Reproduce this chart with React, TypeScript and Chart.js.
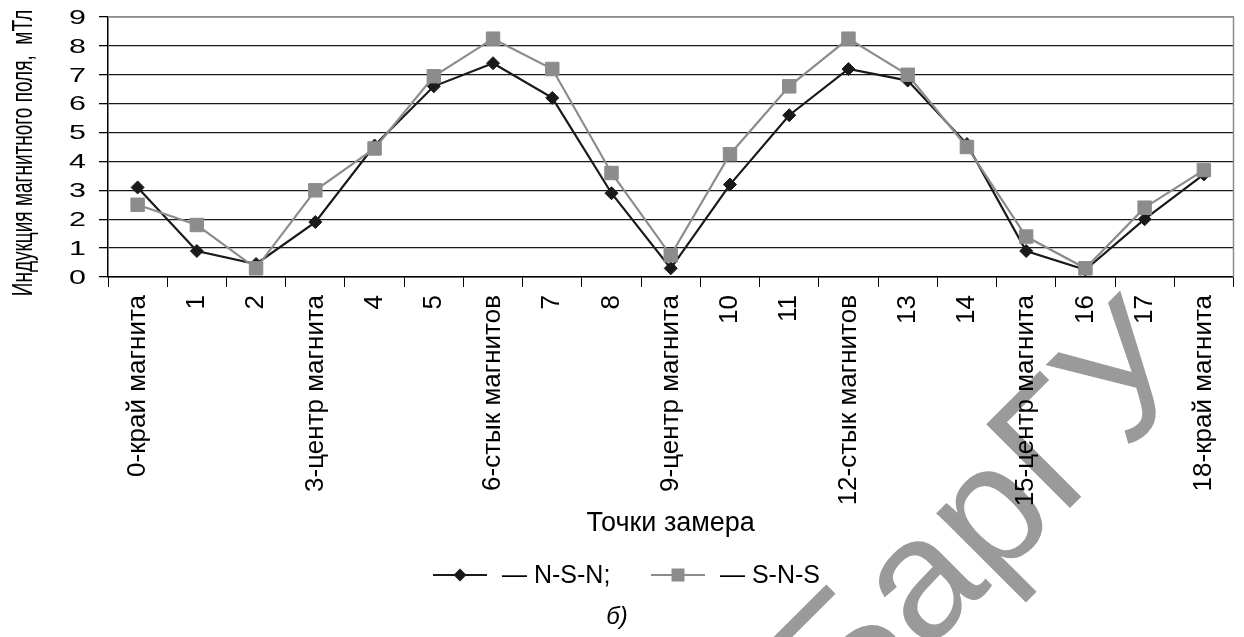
import React, { useEffect, useRef } from 'react';
import { Chart, registerables } from 'chart.js';

Chart.register(...registerables);

const FONT = "'Liberation Sans', Arial, sans-serif";

const categories = [
  '0-край магнита', '1', '2', '3-центр магнита', '4', '5', '6-стык магнитов', '7', '8',
  '9-центр магнита', '10', '11', '12-стык магнитов', '13', '14', '15-центр магнита', '16', '17',
  '18-край магнита',
];
const nsnValues = [3.1, 0.9, 0.45, 1.9, 4.55, 6.6, 7.4, 6.2, 2.9, 0.3, 3.2, 5.6, 7.2, 6.8, 4.6, 0.9, 0.25, 2.0, 3.55];
const snsValues = [2.5, 1.8, 0.3, 3.0, 4.45, 6.95, 8.25, 7.2, 3.6, 0.75, 4.25, 6.6, 8.25, 7.0, 4.5, 1.4, 0.3, 2.4, 3.7];
const seriesNames = ['N-S-N', 'S-N-S'];
const legendTexts = ['— N-S-N;', '— S-N-S'];
const yMin = 0;
const yMax = 9;
const yStep = 1;
const yTitle = 'Индукция магнитного поля,  мТл';
const xTitle = 'Точки замера';
const caption = 'б)';
const watermark = 'БарГУ';

const BLACK = '#1a1a1a';
const GRAY = '#8c8c8c';

const watermarkPlugin = {
  id: 'watermark',
  beforeDraw(chart: any) {
    const ctx = chart.ctx;
    ctx.save();
    ctx.translate(845, 733);
    ctx.rotate(-Math.PI / 4);
    ctx.font = `172px ${FONT}`;
    ctx.fillStyle = '#9a9a9a';
    ctx.textBaseline = 'alphabetic';
    ctx.textAlign = 'left';
    ctx.fillText(watermark, 0, 0);
    ctx.restore();
  },
};

const framePlugin = {
  id: 'frame',
  beforeDatasetsDraw(chart: any) {
    const { ctx, chartArea } = chart;
    ctx.save();
    ctx.strokeStyle = GRAY;
    ctx.lineWidth = 1.5;
    ctx.beginPath();
    ctx.moveTo(chartArea.left, chartArea.top);
    ctx.lineTo(chartArea.right, chartArea.top);
    ctx.lineTo(chartArea.right, chartArea.bottom);
    ctx.stroke();
    ctx.restore();
  },
};

// y-axis labels and title are drawn horizontally widened, as in the reference
const yAxisTextPlugin = {
  id: 'yAxisText',
  afterDraw(chart: any) {
    const ctx = chart.ctx;
    const ys = chart.scales.y;
    ctx.save();
    ctx.fillStyle = '#000';
    ctx.font = `21px ${FONT}`;
    ctx.textAlign = 'right';
    ctx.textBaseline = 'middle';
    ys.ticks.forEach((t: any) => {
      const py = ys.getPixelForValue(t.value);
      ctx.save();
      ctx.translate(ys.right - 22, py + 1);
      ctx.scale(1.45, 1);
      ctx.fillText(String(t.value), 0, 0);
      ctx.restore();
    });
    ctx.save();
    ctx.translate(24, (chart.chartArea.top + chart.chartArea.bottom) / 2 + 6);
    ctx.rotate(-Math.PI / 2);
    ctx.scale(1, 1.55);
    ctx.font = `19px ${FONT}`;
    ctx.textAlign = 'center';
    ctx.textBaseline = 'middle';
    ctx.fillText(yTitle, 0, 0);
    ctx.restore();
    ctx.restore();
  },
};

const legendPlugin = {
  id: 'customLegend',
  afterDraw(chart: any) {
    const ctx = chart.ctx;
    const y = 575;
    const items = [
      { lineX: 433, textX: 502 },
      { lineX: 651, textX: 720 },
    ];
    chart.data.datasets.forEach((ds: any, i: number) => {
      const it = items[i];
      ctx.save();
      ctx.strokeStyle = ds.borderColor;
      ctx.lineWidth = 2.2;
      ctx.beginPath();
      ctx.moveTo(it.lineX, y);
      ctx.lineTo(it.lineX + 54, y);
      ctx.stroke();
      ctx.fillStyle = ds.pointBackgroundColor;
      const cx = it.lineX + 27;
      ctx.beginPath();
      if (ds.pointStyle === 'rectRot') {
        const r = 6.5;
        ctx.moveTo(cx - r, y);
        ctx.lineTo(cx, y - r);
        ctx.lineTo(cx + r, y);
        ctx.lineTo(cx, y + r);
        ctx.closePath();
      } else {
        ctx.rect(cx - 6.5, y - 6.5, 13, 13);
      }
      ctx.fill();
      ctx.fillStyle = '#000';
      ctx.font = `25px ${FONT}`;
      ctx.textBaseline = 'middle';
      ctx.textAlign = 'left';
      ctx.fillText(legendTexts[i], it.textX, y + 1);
      ctx.restore();
    });
    ctx.save();
    ctx.fillStyle = '#000';
    ctx.font = `italic 24px ${FONT}`;
    ctx.textAlign = 'center';
    ctx.textBaseline = 'middle';
    ctx.fillText(caption, 617, 617);
    ctx.restore();
  },
};

export default function App() {
  const ref = useRef<HTMLCanvasElement | null>(null);

  useEffect(() => {
    if (!ref.current) return;
    const chart = new Chart(ref.current, {
      type: 'line',
      data: {
        labels: categories,
        datasets: [
          {
            label: seriesNames[0],
            data: nsnValues,
            borderColor: BLACK,
            backgroundColor: BLACK,
            pointBackgroundColor: BLACK,
            pointBorderColor: BLACK,
            pointStyle: 'rectRot',
            pointRadius: 6.5,
            pointBorderWidth: 1,
            borderWidth: 2.2,
            tension: 0,
            order: 1,
          },
          {
            label: seriesNames[1],
            data: snsValues,
            borderColor: GRAY,
            backgroundColor: GRAY,
            pointBackgroundColor: GRAY,
            pointBorderColor: GRAY,
            pointStyle: 'rect',
            pointRadius: 9.5,
            pointBorderWidth: 1,
            borderWidth: 2.2,
            tension: 0,
            order: 0,
          },
        ],
      },
      options: {
        responsive: false,
        animation: false,
        devicePixelRatio: 1,
        layout: { padding: { left: 0, top: 17, right: 5, bottom: 95 } },
        plugins: {
          legend: { display: false },
          tooltip: { enabled: false },
        },
        scales: {
          x: {
            type: 'category',
            offset: true,
            afterFit: (s: any) => {
              s.height = 265;
              s.paddingLeft = 0;
              s.paddingRight = 0;
            },
            grid: {
              offset: true,
              drawOnChartArea: false,
              drawTicks: true,
              tickLength: 10,
              color: '#000',
              lineWidth: 1,
            },
            border: { color: '#000', width: 1.5 },
            ticks: {
              autoSkip: false,
              maxRotation: 90,
              minRotation: 90,
              padding: 8,
              color: '#000',
              font: { family: FONT, size: 26 },
            },
            title: {
              display: true,
              text: xTitle,
              color: '#000',
              font: { family: FONT, size: 27 },
              padding: { top: 0, bottom: 2 },
            },
          },
          y: {
            min: yMin,
            max: yMax,
            afterFit: (s: any) => {
              s.width = 108;
              s.paddingTop = 0;
              s.paddingBottom = 0;
            },
            grid: {
              color: (c: any) => (c.tick && c.tick.value === yMax ? GRAY : BLACK),
              tickColor: '#000',
              lineWidth: 1.3,
              drawTicks: true,
              tickLength: 9,
            },
            border: { color: '#000', width: 1.5 },
            ticks: {
              stepSize: yStep,
              autoSkip: false,
              display: false,
            },
            title: { display: false },
          },
        },
      },
      plugins: [watermarkPlugin, framePlugin, yAxisTextPlugin, legendPlugin],
    } as any);
    return () => chart.destroy();
  }, []);

  return (
    <div style={{ position: 'absolute', left: 0, top: 0, width: 1244, height: 637, background: '#fff' }}>
      <canvas ref={ref} width={1244} height={637} style={{ display: 'block', width: 1244, height: 637 }} />
    </div>
  );
}
